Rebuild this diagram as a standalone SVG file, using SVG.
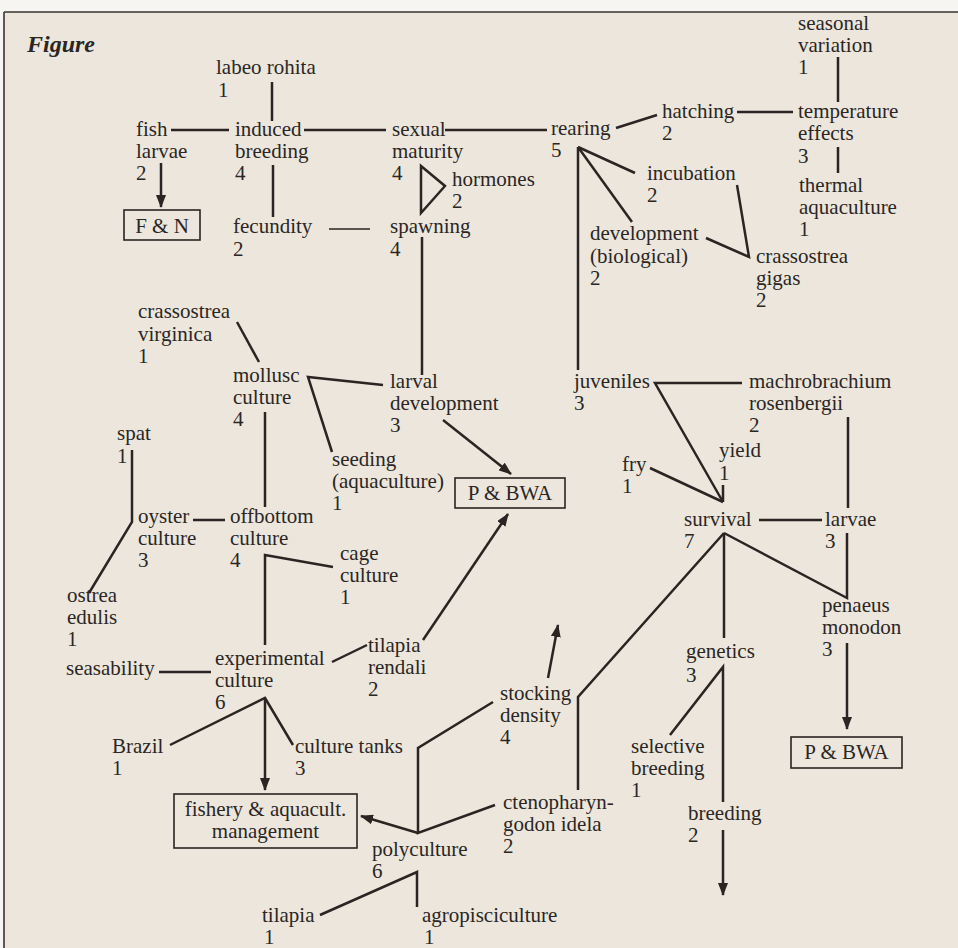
<svg xmlns="http://www.w3.org/2000/svg" width="958" height="948" viewBox="0 0 958 948">
<defs>
<marker id="ah" markerUnits="userSpaceOnUse" markerWidth="13" markerHeight="10" refX="12" refY="5" orient="auto">
<path d="M0 0 L13 5 L0 10 Z" fill="#2a2522"/>
</marker>
<style>
text{font-family:"Liberation Serif","Times New Roman",serif;font-size:21px;fill:#2b2624}
.c path{fill:none;stroke:#2a2522;stroke-width:2.5;stroke-linejoin:miter}
.c .thin{stroke-width:1.4}
.c .arr{marker-end:url(#ah)}
.box rect{fill:none;stroke:#2a2522;stroke-width:1.6}
.box text{text-anchor:middle}
.title{font-weight:bold;font-style:italic;font-size:24px}
</style>
</defs>
<rect x="0" y="0" width="958" height="948" fill="#f7f5f1"/>
<rect x="4" y="12" width="954" height="936" fill="#ece6dc"/>
<path d="M4 12 H958 M4 12 V948" stroke="#3a3532" stroke-width="1.6" fill="none"/>
<text class="title" x="27" y="52">Figure</text>

<g class="c" id="connectors">
<path d="M272 82 V121"/>
<path d="M171 130 H229"/>
<path d="M304 130 H386"/>
<path d="M445 130 H547"/>
<path class="arr" d="M161 163 V207"/>
<path d="M273 165 V217"/>
<path class="thin" d="M329 229 H370"/>
<path d="M421 166 L445 186 L421 213 Z"/>
<path d="M422 237 V375"/>
<path d="M616 128 L657 115"/>
<path d="M737 112 H793"/>
<path d="M838 57 V102"/>
<path d="M838 147 V173"/>
<path d="M578 147 L635 173"/>
<path d="M578 147 L632 222"/>
<path d="M578 147 V370"/>
<path d="M706 238 L749 257 L737 185"/>
<path d="M237 322 L259 362"/>
<path d="M383 385 L308 377 L332 452"/>
<path d="M265 412 V507"/>
<path d="M132 450 V522 L89 593"/>
<path d="M193 520 H225"/>
<path d="M333 567 L265 555 V645"/>
<path d="M159 672 H211"/>
<path d="M332 662 L367 645"/>
<path class="arr" d="M423 640 L508 514"/>
<path class="arr" d="M443 420 L511 474"/>
<path d="M170 745 L265 698 L293 745"/>
<path class="arr" d="M265 698 V790"/>
<path class="arr" d="M418 833 L361 816"/>
<path d="M493 702 L418 748 V833 L495 805"/>
<path class="arr" d="M548 678 L558 625"/>
<path d="M320 915 L417 872 V907"/>
<path d="M742 383 H655 L723 502"/>
<path d="M650 468 L723 502"/>
<path d="M723 485 V502"/>
<path d="M848 417 V508"/>
<path d="M759 520 H822"/>
<path d="M724 533 L847 598 V533"/>
<path d="M724 533 V638"/>
<path d="M724 533 L578 697 V790"/>
<path class="arr" d="M847 643 V729"/>
<path d="M670 735 L723 667 V802"/>
<path class="arr" d="M723 830 V895"/>
</g>

<g id="labeo-rohita"><text x="216" y="74">labeo rohita</text><text x="218" y="97">1</text></g>
<g id="fish-larvae"><text x="136" y="136">fish<tspan x="136" dy="22">larvae</tspan><tspan x="136" dy="22">2</tspan></text></g>
<g id="induced-breeding"><text x="235" y="136">induced<tspan x="235" dy="22">breeding</tspan><tspan x="235" dy="22">4</tspan></text></g>
<g id="sexual-maturity"><text x="392" y="136">sexual<tspan x="392" dy="22">maturity</tspan><tspan x="392" dy="22">4</tspan></text></g>
<g id="hormones"><text x="452" y="186">hormones<tspan x="452" dy="22">2</tspan></text></g>
<g id="fecundity"><text x="233" y="233">fecundity<tspan x="233" dy="23">2</tspan></text></g>
<g id="spawning"><text x="390" y="233">spawning<tspan x="390" dy="23">4</tspan></text></g>
<g id="rearing"><text x="551" y="135">rearing<tspan x="551" dy="22">5</tspan></text></g>
<g id="hatching"><text x="662" y="118">hatching<tspan x="662" dy="22">2</tspan></text></g>
<g id="seasonal-variation"><text x="798" y="30">seasonal<tspan x="798" dy="22">variation</tspan><tspan x="798" dy="22">1</tspan></text></g>
<g id="temperature-effects"><text x="798" y="118">temperature<tspan x="798" dy="22">effects</tspan><tspan x="798" dy="23">3</tspan></text></g>
<g id="thermal-aquaculture"><text x="799" y="192">thermal<tspan x="799" dy="22">aquaculture</tspan><tspan x="799" dy="22">1</tspan></text></g>
<g id="incubation"><text x="647" y="180">incubation<tspan x="647" dy="22">2</tspan></text></g>
<g id="development-biological"><text x="590" y="240">development<tspan x="590" dy="23">(biological)</tspan><tspan x="590" dy="22">2</tspan></text></g>
<g id="crassostrea-gigas"><text x="756" y="263">crassostrea<tspan x="756" dy="22">gigas</tspan><tspan x="756" dy="22">2</tspan></text></g>
<g id="crassostrea-virginica"><text x="138" y="318">crassostrea<tspan x="138" dy="23">virginica</tspan><tspan x="138" dy="22">1</tspan></text></g>
<g id="mollusc-culture"><text x="233" y="382">mollusc<tspan x="233" dy="22">culture</tspan><tspan x="233" dy="22">4</tspan></text></g>
<g id="larval-development"><text x="390" y="388">larval<tspan x="390" dy="22">development</tspan><tspan x="390" dy="22">3</tspan></text></g>
<g id="seeding-aquaculture"><text x="332" y="466">seeding<tspan x="332" dy="22">(aquaculture)</tspan><tspan x="332" dy="22">1</tspan></text></g>
<g id="spat"><text x="117" y="440">spat<tspan x="117" dy="23">1</tspan></text></g>
<g id="oyster-culture"><text x="138" y="523">oyster<tspan x="138" dy="22">culture</tspan><tspan x="138" dy="22">3</tspan></text></g>
<g id="offbottom-culture"><text x="230" y="523">offbottom<tspan x="230" dy="22">culture</tspan><tspan x="230" dy="22">4</tspan></text></g>
<g id="cage-culture"><text x="340" y="560">cage<tspan x="340" dy="22">culture</tspan><tspan x="340" dy="22">1</tspan></text></g>
<g id="ostrea-edulis"><text x="67" y="602">ostrea<tspan x="67" dy="22">edulis</tspan><tspan x="67" dy="22">1</tspan></text></g>
<g id="seasability"><text x="66" y="675">seasability</text></g>
<g id="experimental-culture"><text x="215" y="665">experimental<tspan x="215" dy="22">culture</tspan><tspan x="215" dy="22">6</tspan></text></g>
<g id="tilapia-rendali"><text x="368" y="652">tilapia<tspan x="368" dy="22">rendali</tspan><tspan x="368" dy="22">2</tspan></text></g>
<g id="brazil"><text x="112" y="753">Brazil<tspan x="112" dy="22">1</tspan></text></g>
<g id="culture-tanks"><text x="295" y="753">culture tanks<tspan x="295" dy="22">3</tspan></text></g>
<g id="polyculture"><text x="372" y="856">polyculture<tspan x="372" dy="22">6</tspan></text></g>
<g id="tilapia"><text x="262" y="922">tilapia<tspan x="264" dy="22">1</tspan></text></g>
<g id="agropisciculture"><text x="422" y="922">agropisciculture<tspan x="424" dy="22">1</tspan></text></g>
<g id="stocking-density"><text x="500" y="700">stocking<tspan x="500" dy="22">density</tspan><tspan x="500" dy="22">4</tspan></text></g>
<g id="ctenopharyngodon-idela"><text x="503" y="809">ctenopharyn-<tspan x="503" dy="22">godon idela</tspan><tspan x="503" dy="22">2</tspan></text></g>
<g id="juveniles"><text x="574" y="388">juveniles<tspan x="574" dy="22">3</tspan></text></g>
<g id="machrobrachium-rosenbergii"><text x="749" y="388">machrobrachium<tspan x="749" dy="22">rosenbergii</tspan><tspan x="749" dy="22">2</tspan></text></g>
<g id="yield"><text x="719" y="457">yield<tspan x="719" dy="23">1</tspan></text></g>
<g id="fry"><text x="622" y="471">fry<tspan x="622" dy="22">1</tspan></text></g>
<g id="survival"><text x="684" y="526">survival<tspan x="684" dy="22">7</tspan></text></g>
<g id="larvae"><text x="825" y="526">larvae<tspan x="825" dy="22">3</tspan></text></g>
<g id="penaeus-monodon"><text x="822" y="612">penaeus<tspan x="822" dy="22">monodon</tspan><tspan x="822" dy="22">3</tspan></text></g>
<g id="genetics"><text x="686" y="658">genetics<tspan x="686" dy="24">3</tspan></text></g>
<g id="selective-breeding"><text x="631" y="753">selective<tspan x="631" dy="22">breeding</tspan><tspan x="631" dy="22">1</tspan></text></g>
<g id="breeding"><text x="688" y="820">breeding<tspan x="688" dy="22">2</tspan></text></g>

<g id="box-fn" class="box"><rect x="124" y="210" width="76" height="30"/><text x="162" y="233">F &amp; N</text></g>
<g id="box-pbwa-1" class="box"><rect x="455" y="478" width="110" height="30"/><text x="510" y="500">P &amp; BWA</text></g>
<g id="box-pbwa-2" class="box"><rect x="791" y="737" width="111" height="31"/><text x="846.5" y="759">P &amp; BWA</text></g>
<g id="box-fishery" class="box"><rect x="174" y="794" width="183" height="54"/><text x="265.5" y="816">fishery &amp; aquacult.<tspan x="265.5" dy="22">management</tspan></text></g>
</svg>
